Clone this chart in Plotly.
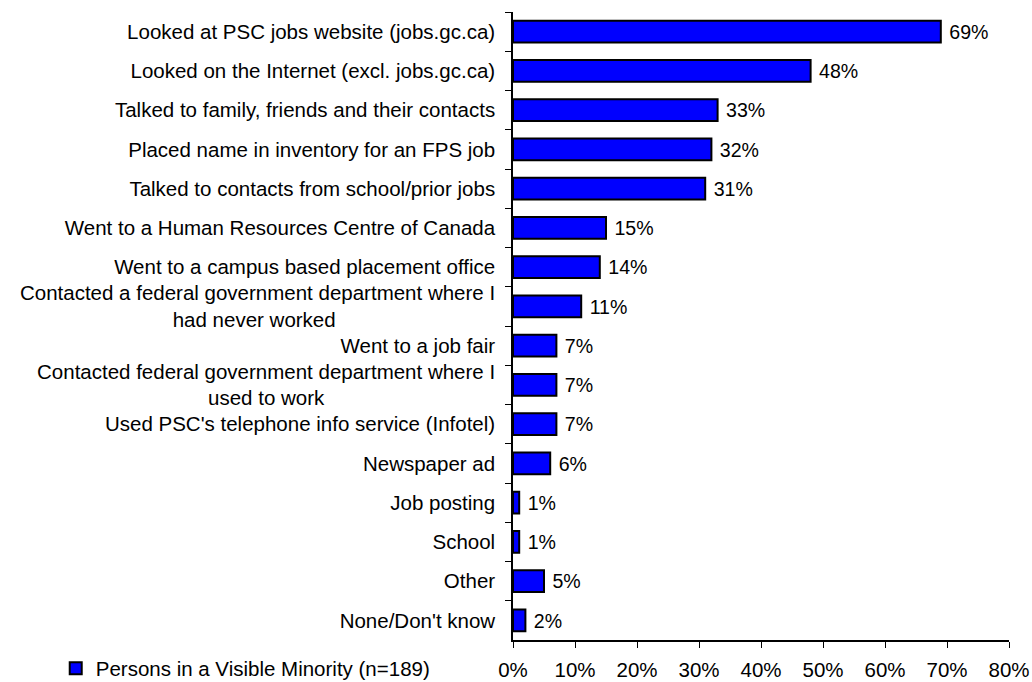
import plotly.graph_objects as go

NB = "\u00a0"
categories = [
    "Looked at PSC jobs website (jobs.gc.ca)",
    "Looked on the Internet (excl. jobs.gc.ca)",
    "Talked to family, friends and their contacts",
    "Placed name in inventory for an FPS job",
    "Talked to contacts from school/prior jobs",
    "Went to a Human Resources Centre of Canada",
    "Went to a campus based placement office",
    "Contacted a federal government department where I<br>had never worked" + NB * 28,
    "Went to a job fair",
    "Contacted federal government department where I<br>used to work" + NB * 30,
    "Used PSC's telephone info service (Infotel)",
    "Newspaper ad",
    "Job posting",
    "School",
    "Other",
    "None/Don't know",
]
values = [69, 48, 33, 32, 31, 15, 14, 11, 7, 7, 7, 6, 1, 1, 5, 2]
series_name = "Persons in a Visible Minority (n=189)"
x_ticks = [0, 10, 20, 30, 40, 50, 60, 70, 80]

FONT = "Liberation Sans, Arial, sans-serif"
FS = 20.5

fig = go.Figure(
    go.Bar(
        x=values,
        y=categories,
        orientation="h",
        name=series_name,
        marker=dict(color="#0000FF", line=dict(color="black", width=2)),
        text=[f" {v}%" for v in values],
        textposition="outside",
        textfont=dict(family=FONT, size=FS, color="black"),
        cliponaxis=False,
        width=0.56,
    )
)

fig.update_layout(
    width=1032,
    height=682,
    margin=dict(l=513, r=23, t=12, b=42),
    paper_bgcolor="white",
    plot_bgcolor="white",
    font=dict(family=FONT, size=FS, color="black"),
    showlegend=True,
    legend=dict(
        xref="container",
        yref="container",
        x=0.054,
        y=0.020,
        xanchor="left",
        yanchor="middle",
        orientation="h",
        font=dict(family=FONT, size=FS, color="black"),
        bgcolor="rgba(0,0,0,0)",
    ),
    xaxis=dict(
        range=[0, 80],
        tickvals=x_ticks,
        ticktext=[f"{t}%" for t in x_ticks],
        ticks="outside",
        ticklen=6,
        tickcolor="black",
        showline=True,
        linecolor="black",
        linewidth=1.5,
        showgrid=False,
        zeroline=False,
        ticklabelstandoff=5,
        automargin=False,
        fixedrange=True,
    ),
    yaxis=dict(
        autorange="reversed",
        ticks="outside",
        tickson="boundaries",
        ticklen=6,
        tickcolor="black",
        showline=True,
        linecolor="black",
        linewidth=1.5,
        showgrid=False,
        ticklabelstandoff=12,
        automargin=False,
        fixedrange=True,
    ),
)

fig.write_html("out.html")
